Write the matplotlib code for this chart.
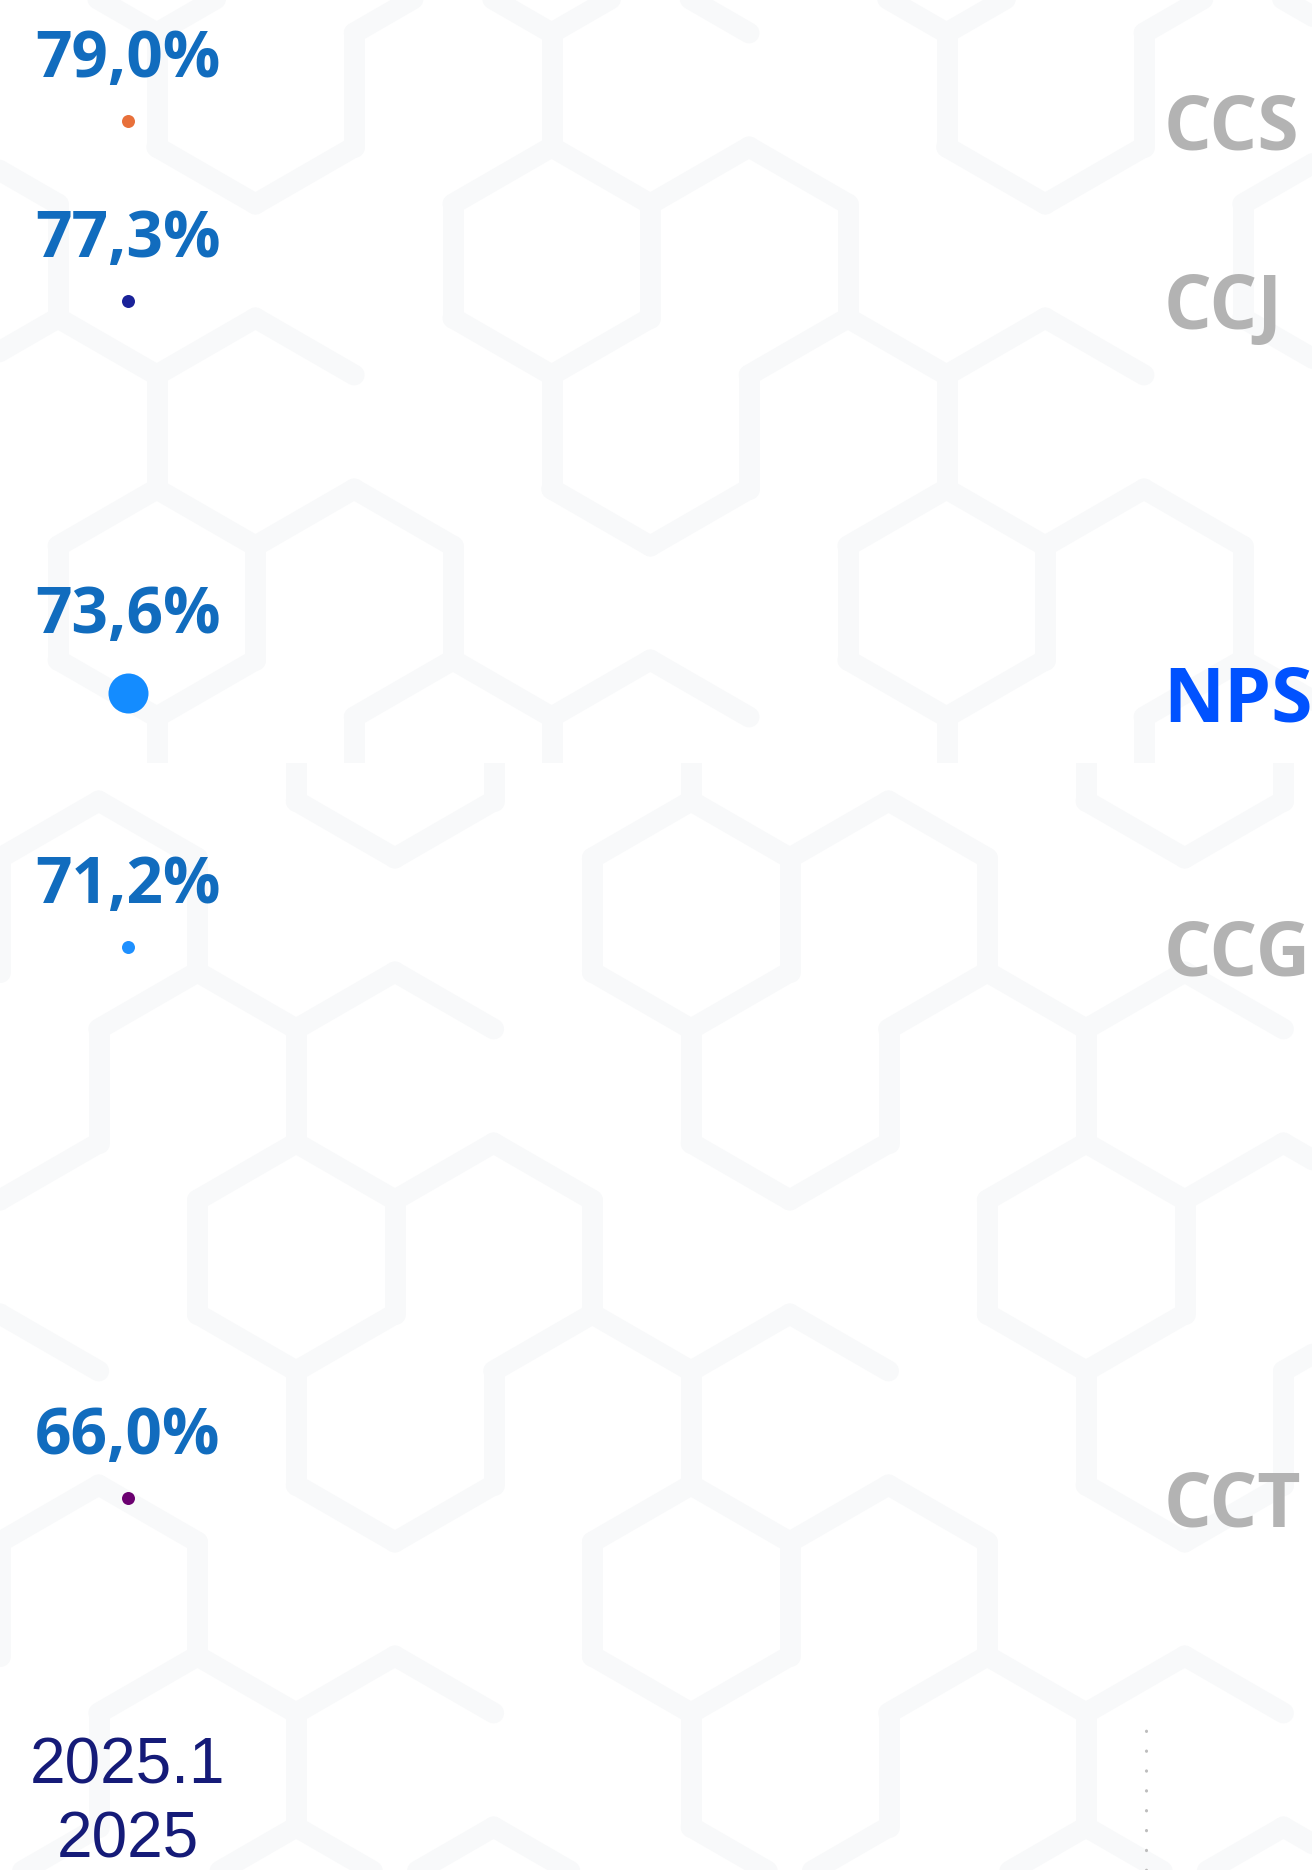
import numpy as np
import matplotlib as mpl
mpl.use('Agg')
import matplotlib.pyplot as plt
import matplotlib.transforms as mtransforms

# data
series = ["CCS", "CCJ", "NPS", "CCG", "CCT"]
values = [79.0, 77.3, 73.6, 71.2, 66.0]
periods = ["2025.1"]
years = ["2025"]
highlight = "NPS"

# styles
dot_colors = ["#E8703A", "#1A2299", "#148CFF", "#1E90FF", "#6B0070"]
value_color = "#116CBE"
name_gray = "#B3B3B3"
name_hi = "#0052FF"
year_color = "#151B78"

W, H = 1312, 1870
fig = plt.figure(figsize=(W / 100, H / 100), dpi=100)
fig.patch.set_facecolor("white")

# faint honeycomb backdrop (decoration only)
bg = fig.add_axes([0, 0, 1, 1])
bg.set_xlim(0, W)
bg.set_ylim(H, 0)
bg.axis("off")
R = 114.0
dx = R * np.sqrt(3)
dy = 1.5 * R
ang = np.radians(np.arange(6) * 60 + 30)
for band, (y0, y1, ox, oy) in enumerate([(0, 763, 58, 90), (763, H, 0, 60)]):
    clip = plt.Rectangle((0, y0), W, y1 - y0, transform=bg.transData)
    for r in range(-2, int(H / dy) + 3):
        for c in range(-2, int(W / dx) + 3):
            cx = ox + c * dx + (dx / 2 if r % 2 else 0)
            cy = oy + r * dy
            vx = cx + R * np.cos(ang)
            vy = cy + R * np.sin(ang)
            for e in range(3):
                if (r * 5 + c * 3 + e * 2 + band) % 4 == 0:
                    continue
                ln, = bg.plot([vx[e], vx[e + 1]], [vy[e], vy[e + 1]],
                              color="#F8F9FA", lw=15, solid_capstyle="round", zorder=0)
                ln.set_clip_path(clip)

ax = fig.add_axes([0, 0, 1, 1])
ax.patch.set_alpha(0)
px_per_unit = 105.96
top_val = values[0] + 120.5 / px_per_unit
bot_val = values[0] - (H - 120.5) / px_per_unit
ax.set_ylim(bot_val, top_val)
ax.set_xlim(-127.6 / W, 1 - 127.6 / W)
ax.axis("off")

trans = mtransforms.blended_transform_factory(ax.transAxes, ax.transData)
for i, (name, v) in enumerate(zip(series, values)):
    big = name == highlight
    diam = 40 if big else 13
    ax.scatter([0], [v], s=(diam / 1.389) ** 2, color=dot_colors[i], zorder=3, linewidths=0)
    off = (diam / 2 * 1.2 + 36) / 1.389
    ax.annotate(f"{v:.1f}%".replace(".", ","), (0, v), xytext=(0, off), textcoords="offset points",
                ha="center", va="baseline", fontsize=46, fontweight="bold",
                family="Open Sans", color=value_color)
    ax.text(0.887, v, name, transform=trans, ha="left", va="center_baseline",
            fontsize=54, fontweight="bold", family="Open Sans",
            color=name_hi if big else name_gray, clip_on=False)

tx = mtransforms.blended_transform_factory(ax.transData, ax.transAxes)
ax.text(0, (H - 1767) / H, periods[0], transform=tx, ha="center", va="center",
        fontsize=46, family="Liberation Sans", color=year_color)
ax.text(0, (H - 1840) / H, years[0], transform=tx, ha="center", va="center",
        fontsize=46, family="Liberation Sans", color=year_color)

ax.axvline((1146 - 127.6) / W, ymin=0, ymax=(H - 1718) / H, color="#BDBDBD",
           lw=2.2, linestyle=(0, (0.1, 6.4)), dash_capstyle="round")

fig.savefig("out.png", dpi=100)
